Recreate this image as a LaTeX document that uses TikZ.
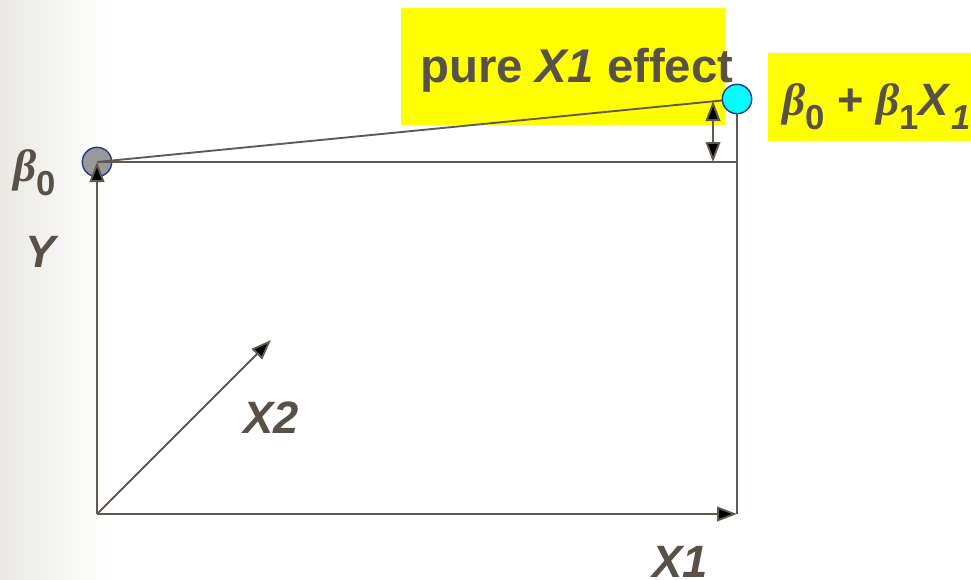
\documentclass[tikz,border=0pt]{standalone}
\usepackage{fontspec}
\setmainfont{Liberation Sans}
\newfontfamily\grkfont{Liberation Serif}
\usepackage{tikz}
\usetikzlibrary{arrows.meta}
\definecolor{inkgray}{RGB}{89, 80, 72}
\definecolor{linegray}{RGB}{96, 89, 81}
\definecolor{rimblue}{RGB}{43, 57, 144}
\definecolor{bggray}{RGB}{234, 233, 229}
\definecolor{hilite}{RGB}{255, 255, 0}
\definecolor{aqua}{RGB}{0, 255, 255}
\definecolor{dotgray}{RGB}{153, 153, 153}
\newcommand{\bet}{{\grkfont\itshape\bfseries β}}
\newcommand{\lowsub}[1]{\raisebox{-11pt}{\fontsize{26pt}{26pt}\selectfont #1}}

\begin{document}
\begin{tikzpicture}[x=0.75pt, y=-0.75pt,
  >={Triangle[length=15pt, width=11pt, fill=black]},
  axis/.style={draw=linegray, line width=1.4pt},
  dot/.style={circle, draw=rimblue, line width=1.1pt, minimum size=22pt, inner sep=0pt},
  hlbox/.style={fill=hilite, inner sep=0pt},
  lbl/.style={text=inkgray, font=\fontsize{34pt}{40pt}\selectfont\bfseries, inner sep=0pt, anchor=base west}]
  \useasboundingbox (0,0) rectangle (971,579);
  \clip (0,0) rectangle (971,579);
  \shade[left color=bggray, right color=white] (0,0) rectangle (115,579);

  % Highlight boxes
  \node[hlbox, minimum width=243pt, minimum height=88pt] (effbox) at (563,66.5) {};
  \node[hlbox, minimum width=174pt, minimum height=66pt] (sumbox) at (884,97) {};

  % Points and corners
  \coordinate (O) at (97,514);
  \coordinate (x1end) at (737,514);
  \coordinate (x2end) at (271,340);
  \coordinate (corner) at (737,162);
  \coordinate (effTop) at (713,101);
  \coordinate (effBot) at (713,162);
  \node[dot, fill=dotgray] (b0) at (97,162) {};

  % Axes
  \draw[axis, ->] (O) -- (b0.center);
  \draw[axis, ->] (O) -- (x1end);
  \draw[axis, ->] (O) -- (x2end);

  % Fitted lines
  \draw[axis] (b0.center) -- (corner);
  \draw[axis] (b0.center) -- (737,99);
  \draw[axis] (737,99) -- (x1end);
  \node[dot, fill=aqua] (b1) at (737,99) {};

  % Effect arrow
  \draw[axis, {Triangle[length=15pt, width=11pt, fill=black]}-{Triangle[length=15pt, width=11pt, fill=black]}] (effBot) -- (effTop);

  % Labels
  \node[lbl, font=\fontsize{35.5pt}{40pt}\selectfont\bfseries] (efftext) at (420,82) {pure \textit{X1} effect};
  \node[lbl] (sumtext) at (782,115) {\bet\lowsub{0} + \bet\lowsub{1}\textit{X}\lowsub{\itshape 1}};
  \node[lbl] (b0text) at (13,181) {\bet\lowsub{0}};
  \node[lbl] (ytext) at (25,267) {\textit{Y}};
  \node[lbl] (x2text) at (243,433) {\textit{X2}};
  \node[lbl] (x1text) at (652,577) {\textit{X1}};
\end{tikzpicture}
\end{document}
